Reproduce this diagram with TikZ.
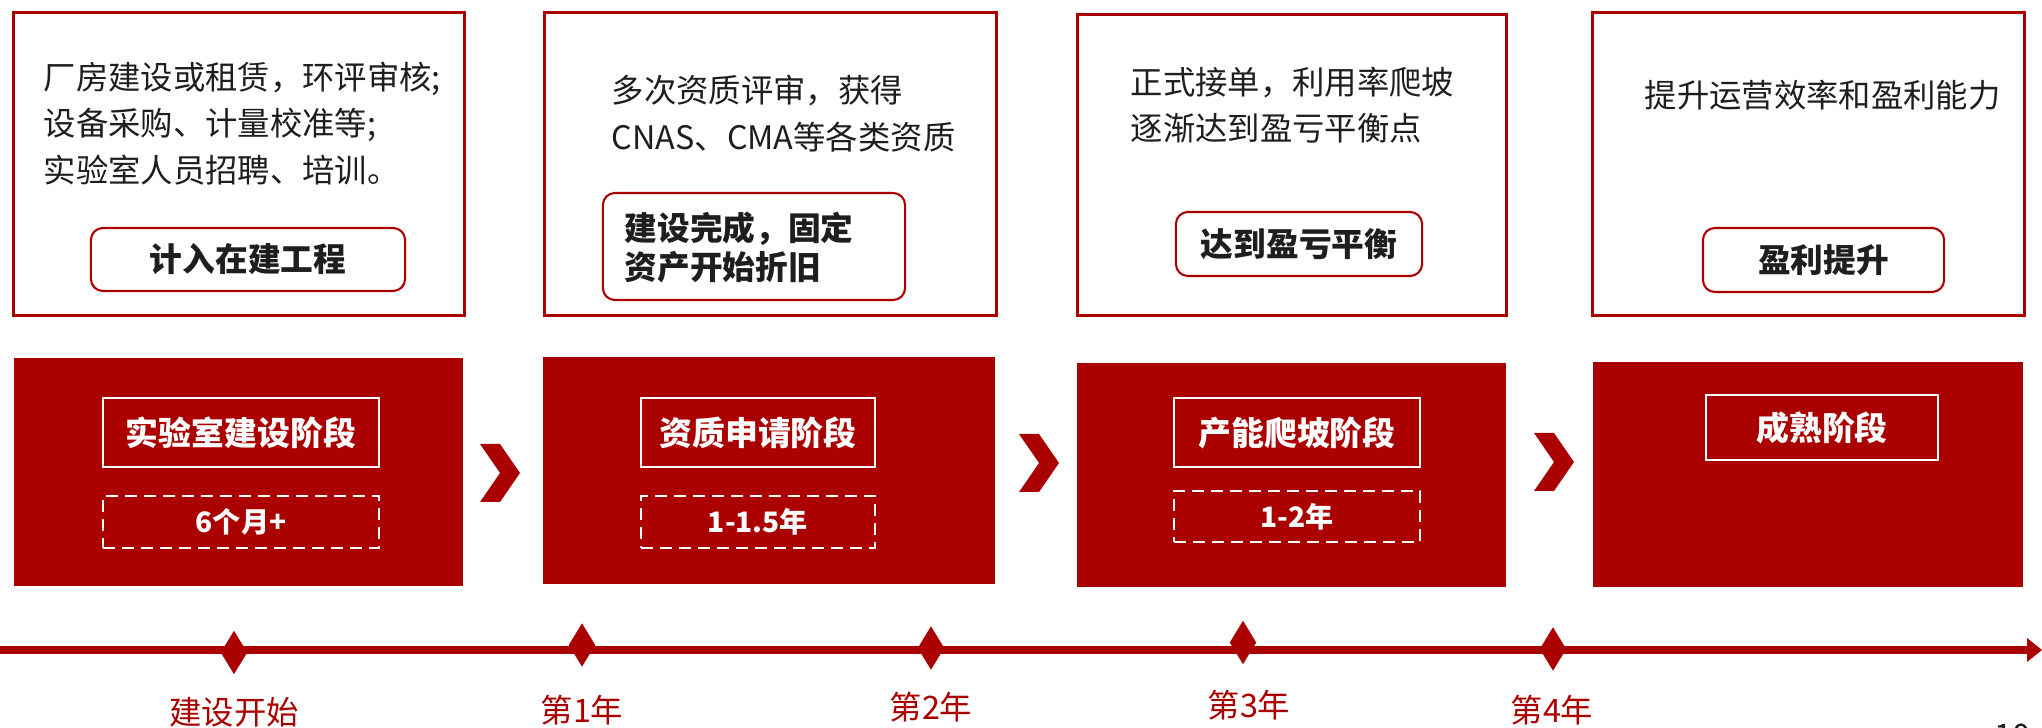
\documentclass[tikz,border=0pt]{standalone}
\usepackage{fontspec}
\setmainfont{Noto Sans CJK SC}
\usetikzlibrary{arrows.meta, positioning, shapes.geometric}
\definecolor{deepred}{RGB}{170, 0, 0}
\definecolor{inkgray}{RGB}{30, 30, 30}

\begin{document}
\begin{tikzpicture}[x=0.01cm, y=-0.01cm, line join=miter, >={Triangle[length=0.15cm, width=0.23cm]},
    infobox/.style={draw=deepred, line width=0.85pt, fill=white, inner sep=0pt},
    phasebox/.style={fill=deepred, inner sep=0pt},
    notebox/.style={draw=deepred, line width=0.6pt, rounded corners=0.12cm, inner sep=0pt},
    titlebox/.style={draw=white, line width=0.7pt, inner sep=0pt, text=white, font=\fontsize{9.35pt}{11pt}\selectfont\bfseries},
    spanbox/.style={draw=white, line width=0.6pt, dash pattern=on 0.12cm off 0.07cm, inner sep=0pt, text=white, font=\fontsize{8pt}{10pt}\selectfont\bfseries},
    desc/.style={inner sep=0pt, text=inkgray, align=left, font=\fontsize{9.2pt}{13.2pt}\selectfont},
    milestone/.style={diamond, fill=deepred, inner sep=0pt, minimum width=0.27cm, minimum height=0.44cm},
    yearlabel/.style={inner sep=0pt, text=deepred, font=\fontsize{9.2pt}{11pt}\selectfont}]
    \useasboundingbox (0,0) rectangle (2042,728);
    \clip (0,0) rectangle (2042,728);

    % upper boxes
    \node[infobox, minimum width=4.50cm, minimum height=3.02cm] (info1) at (239,164) {};
    \node[infobox, minimum width=4.51cm, minimum height=3.02cm] (info2) at (770.5,164) {};
    \node[infobox, minimum width=4.28cm, minimum height=3.00cm] (info3) at (1292,165) {};
    \node[infobox, minimum width=4.31cm, minimum height=3.02cm] (info4) at (1808.5,164) {};

    \node[desc, anchor=west] (text1) at (43,123.5) {厂房建设或租赁，环评审核;\\设备采购、计量校准等;\\实验室人员招聘、培训。};
    \node[desc, anchor=west] (text2) at (611,113.5) {多次资质评审，获得\\CNAS、CMA等各类资质};
    \node[desc, anchor=west] (text3) at (1130,105) {正式接单，利用率爬坡\\逐渐达到盈亏平衡点};
    \node[desc, anchor=west] (text4) at (1644,95) {提升运营效率和盈利能力};

    \node[notebox, minimum width=3.14cm, minimum height=0.63cm] (note1) at (248,259.5) {};
    \node[notebox, minimum width=3.02cm, minimum height=1.07cm] (note2) at (754,246.5) {};
    \node[notebox, minimum width=2.46cm, minimum height=0.64cm] (note3) at (1299,244) {};
    \node[notebox, minimum width=2.41cm, minimum height=0.64cm] (note4) at (1823.5,260) {};

    \node[desc, font=\fontsize{9.3pt}{11.2pt}\selectfont\bfseries] (label1) at (note1) {计入在建工程};
    \node[desc, anchor=west, font=\fontsize{9.3pt}{11.2pt}\selectfont\bfseries] (label2) at (624,247.5) {建设完成，固定\\资产开始折旧};
    \node[desc, font=\fontsize{9.3pt}{11.2pt}\selectfont\bfseries] (label3) at (note3) {达到盈亏平衡};
    \node[desc, font=\fontsize{9.3pt}{11.2pt}\selectfont\bfseries] (label4) at (note4) {盈利提升};

    % phase boxes
    \node[phasebox, minimum width=4.49cm, minimum height=2.28cm] (phase1) at (238.5,472) {};
    \node[phasebox, minimum width=4.52cm, minimum height=2.27cm] (phase2) at (769,470.5) {};
    \node[phasebox, minimum width=4.29cm, minimum height=2.24cm] (phase3) at (1291.5,475) {};
    \node[phasebox, minimum width=4.30cm, minimum height=2.25cm] (phase4) at (1808,474.5) {};

    \node[titlebox, minimum width=2.76cm, minimum height=0.69cm] (title1) at (241,432.5) {实验室建设阶段};
    \node[titlebox, minimum width=2.34cm, minimum height=0.69cm] (title2) at (758,432.5) {资质申请阶段};
    \node[titlebox, minimum width=2.46cm, minimum height=0.69cm] (title3) at (1297,432.5) {产能爬坡阶段};
    \node[titlebox, minimum width=2.32cm, minimum height=0.65cm] (title4) at (1822,427.5) {成熟阶段};

    \node[spanbox, minimum width=2.76cm, minimum height=0.52cm] (span1) at (241,522) {6个月+};
    \node[spanbox, minimum width=2.34cm, minimum height=0.52cm] (span2) at (758,522) {1-1.5年};
    \node[spanbox, minimum width=2.46cm, minimum height=0.51cm] (span3) at (1297,516.5) {1-2年};

    % chevrons
    \fill[deepred] (480,444) -- (500,444) -- (520,473) -- (500,502) -- (480,502) -- (500,473) -- cycle;
    \fill[deepred] (1019,434) -- (1039,434) -- (1059,463) -- (1039,492) -- (1019,492) -- (1039,463) -- cycle;
    \fill[deepred] (1534,433) -- (1554,433) -- (1574,462) -- (1554,491) -- (1534,491) -- (1554,462) -- cycle;

    % timeline
    \coordinate (start) at (0,650);
    \coordinate (end) at (2042,650);
    \draw[->, deepred, line width=2pt] (start) -- (end);

    \node[milestone] (m0) at (234,652.5) {};
    \node[milestone] (m1) at (582,645) {};
    \node[milestone] (m2) at (931,648) {};
    \node[milestone] (m3) at (1243,642.5) {};
    \node[milestone] (m4) at (1553,649) {};

    \node[yearlabel] (y0) at (234,712) {建设开始};
    \node[yearlabel] (y1) at (582,710) {第1年};
    \node[yearlabel] (y2) at (931,707) {第2年};
    \node[yearlabel] (y3) at (1249,705) {第3年};
    \node[yearlabel] (y4) at (1552,710) {第4年};

    \node[inner sep=0pt, anchor=north, text=inkgray, font=\fontsize{9.2pt}{11pt}\selectfont] (pagenum) at (2012,723) {10};
\end{tikzpicture}
\end{document}
